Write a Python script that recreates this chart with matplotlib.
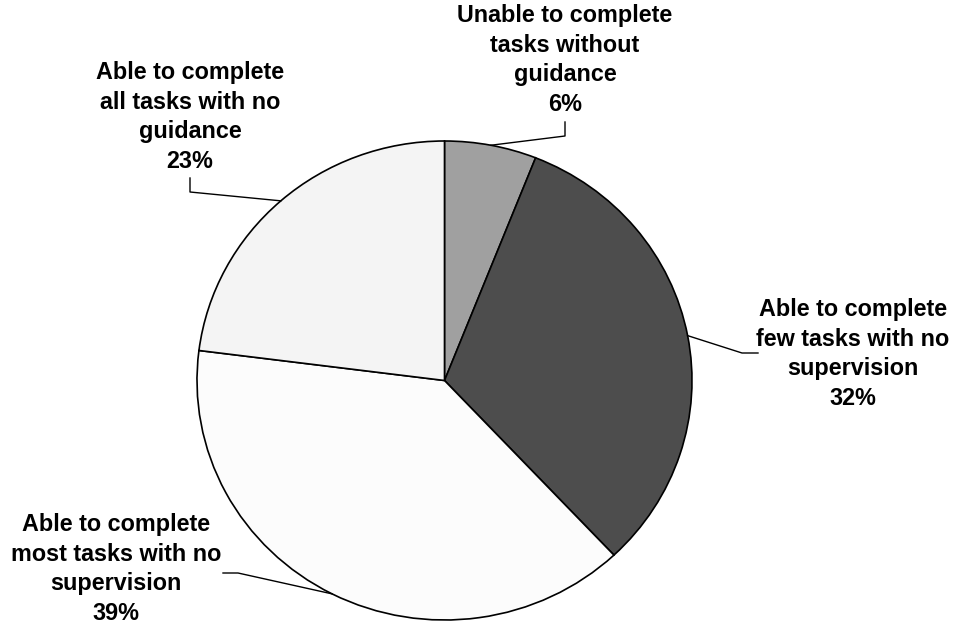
import matplotlib
matplotlib.use("Agg")
import numpy as np
import matplotlib.pyplot as plt
from matplotlib.lines import Line2D

# Survey results: ability to complete tasks independently
categories = [
    "Unable to complete\ntasks without\nguidance",
    "Able to complete\nfew tasks with no\nsupervision",
    "Able to complete\nmost tasks with no\nsupervision",
    "Able to complete\nall tasks with no\nguidance",
]
shares = [6, 32, 39, 23]
colors = ["#A0A0A0", "#4D4D4D", "#FCFCFC", "#F4F4F4"]

W, H = 957, 626
fig = plt.figure(figsize=(W / 100, H / 100), dpi=100)
fig.patch.set_facecolor("white")

# Axes occupies the pie's bounding box (pixels: x 197..692, y 141..620)
ax = fig.add_axes([197 / W, (H - 620) / H, 495 / W, 479 / H])
wedges, _ = ax.pie(
    shares,
    colors=colors,
    startangle=90,
    counterclock=False,
    wedgeprops=dict(edgecolor="black", linewidth=1.2),
)
ax.set_aspect("auto")
ax.set_xlim(-1, 1)
ax.set_ylim(-1, 1)
ax.axis("off")

# Label layout in pixel units: text centre and leader-line elbow points
label_layout = [
    dict(text_xy=(565, 60), elbow=[(565, 122), (565, 136)]),
    dict(text_xy=(853, 354), elbow=[(758, 353), (742, 353)]),
    dict(text_xy=(116, 569), elbow=[(223, 573), (238, 573)]),
    dict(text_xy=(190, 117), elbow=[(190, 178), (190, 192)]),
]

to_fig = fig.transFigure.inverted()


def px(x, y):
    return (x / W, 1 - y / H)


for cat, val, w, lay in zip(categories, shares, wedges, label_layout):
    mid = np.deg2rad((w.theta1 + w.theta2) / 2)
    edge_disp = ax.transData.transform((np.cos(mid), np.sin(mid)))
    ex, ey = to_fig.transform(edge_disp)
    pts = [px(*p) for p in lay["elbow"]] + [(ex, ey)]
    xs, ys = zip(*pts)
    fig.add_artist(Line2D(xs, ys, transform=fig.transFigure, color="black", lw=1.0))
    tx, ty = px(*lay["text_xy"])
    fig.text(
        tx, ty, f"{cat}\n{val}%",
        ha="center", va="center", multialignment="center",
        fontsize=16.8, fontweight="bold", family="Liberation Sans",
        linespacing=1.36, color="black",
    )

fig.savefig("out.png", dpi=100, facecolor="white")
